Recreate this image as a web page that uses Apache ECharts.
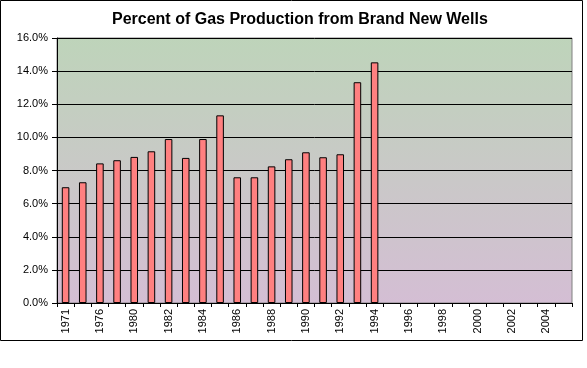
<!DOCTYPE html>
<html><head><meta charset="utf-8">
<script src="https://cdn.jsdelivr.net/npm/echarts@6/dist/echarts.min.js"></script>
<style>html,body{margin:0;padding:0;background:#fff}#c{width:587px;height:368px}</style>
</head><body><div id="c"></div>
<script>
var categories = ['1971','1973','1976','1978','1980','1981','1982','1983','1984','1985','1986','1987','1988','1989','1990','1991','1992','1993','1994','1995','1996','1997','1998','1999','2000','2001','2002','2003','2004','2005'];
var values = [6.99, 7.29, 8.43, 8.62, 8.82, 9.16, 9.9, 8.76, 9.9, 11.33, 7.59, 7.59, 8.25, 8.68, 9.10, 8.80, 8.98, 13.33, 14.53];
var yTicks = [0, 2, 4, 6, 8, 10, 12, 14, 16];
var titleText = 'Percent of Gas Production from Brand New Wells';

var chart = echarts.init(document.getElementById('c'), null, {renderer: 'canvas'});
chart.setOption({
  animation: false,
  title: {
    text: titleText, left: 107, top: 7,
    textStyle: {fontFamily: 'Liberation Sans, Arial', fontSize: 16, fontWeight: 'bold', color: '#000'}
  },
  graphic: [{
    type: 'rect', z: -10, silent: true,
    shape: {x: 0.5, y: 0.5, width: 582, height: 340},
    style: {fill: 'none', stroke: '#000', lineWidth: 1}
  }],
  grid: {
    left: 57, top: 38, right: 15, bottom: 65, show: true,
    borderColor: '#808080', borderWidth: 1,
    backgroundColor: new echarts.graphic.LinearGradient(0, 0, 0, 1, [
      {offset: 0, color: '#bed4ba'}, {offset: 1, color: '#d4bed4'}
    ])
  },
  xAxis: {
    type: 'category', data: categories, boundaryGap: true,
    axisLine: {lineStyle: {color: '#000', width: 1}},
    axisTick: {show: true, interval: 0, length: 4, alignWithLabel: false, lineStyle: {color: '#000'}},
    axisLabel: {interval: 1, rotate: 90, color: '#000', fontFamily: 'Liberation Sans, Arial', fontSize: 11, margin: 6},
    splitLine: {show: false}
  },
  yAxis: {
    type: 'value', min: yTicks[0], max: yTicks[yTicks.length - 1], interval: yTicks[1] - yTicks[0],
    axisLine: {show: true, lineStyle: {color: '#000', width: 1}},
    axisTick: {show: true, length: 5, lineStyle: {color: '#000'}},
    axisLabel: {color: '#000', fontFamily: 'Liberation Sans, Arial', fontSize: 11, margin: 9,
      formatter: function (v) { return v.toFixed(1) + '%'; }},
    splitLine: {show: true, lineStyle: {color: '#000', width: 1}}
  },
  series: [{
    type: 'bar', data: values, barWidth: '44%',
    itemStyle: {color: '#ff8080', borderColor: '#000', borderWidth: 1}
  }]
});
</script></body></html>
